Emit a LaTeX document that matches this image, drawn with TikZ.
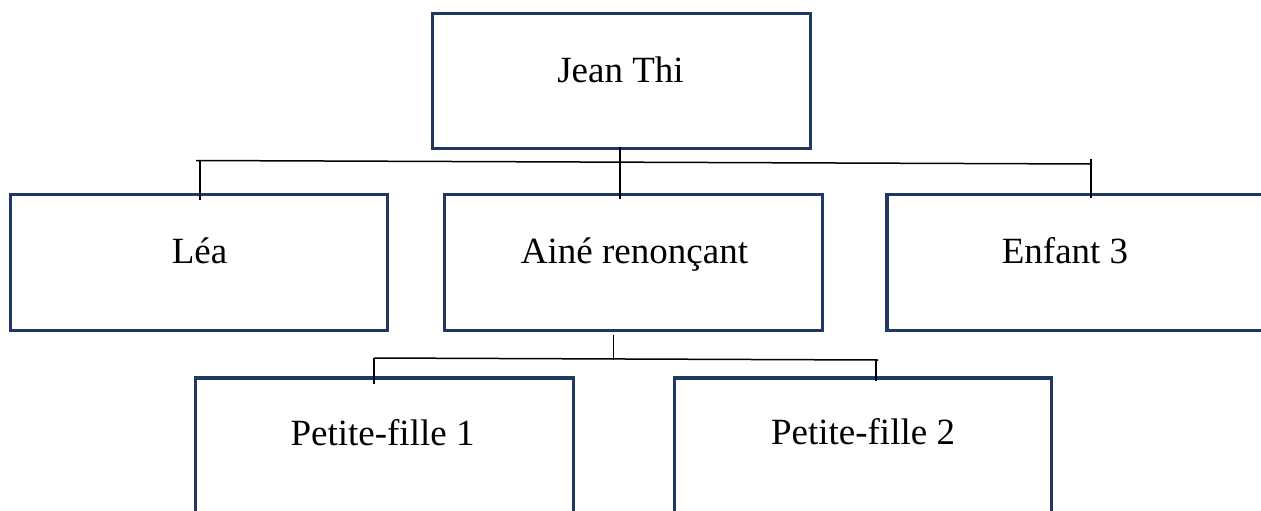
\documentclass[tikz,border=0pt]{standalone}
\usepackage{fontspec}
\setmainfont{Liberation Serif}
\definecolor{navy}{HTML}{1F3864}
\tikzset{
  box/.style={draw=navy, line width=3.2pt, rectangle, inner sep=0pt},
  lbl/.style={font=\fontsize{37}{40}\selectfont, text=black, inner sep=0pt, anchor=base},
  conn/.style={draw=black, line width=1.5pt}
}
\begin{document}
\begin{tikzpicture}[x=1pt,y=-1pt]
\useasboundingbox (0,0) rectangle (1261,511);
\clip (0,0) rectangle (1261,511);
% boxes
\node[box, minimum width=378, minimum height=135] (jt) at (621.5,81) {};
\node[box, minimum width=377, minimum height=136] (lea) at (199,262.5) {};
\node[box, minimum width=378, minimum height=136] (ai) at (633.5,262.5) {};
\node[box, minimum width=382, minimum height=136] (e3) at (1078,262.5) {};
\node[box, minimum width=378, minimum height=141] (pf1) at (384.5,448.5) {};
\node[box, minimum width=377, minimum height=141] (pf2) at (863,448.5) {};
% labels
\node[lbl] (tjt) at (620.5,82) {Jean Thi};
\node[lbl] (tlea) at (199.5,263) {Léa};
\node[lbl] (tai) at (634.5,263) {Ainé renonçant};
\node[lbl] (te3) at (1065,263) {Enfant 3};
\node[lbl] (tpf1) at (382.5,445) {Petite-fille 1};
\node[lbl] (tpf2) at (863,444) {Petite-fille 2};
% first level connector
\coordinate (b1l) at (196,160.5);
\coordinate (b1r) at (1092,164);
\coordinate (v1t) at (620,147);
\coordinate (v1b) at (620,199);
\coordinate (l1t) at (200,160.5);
\coordinate (l1b) at (200,200);
\coordinate (r1t) at (1091,159);
\coordinate (r1b) at (1091,198);
\draw[conn] (b1l) -- (b1r);
\draw[conn] (v1t) -- (v1b);
\draw[conn] (l1t) -- (l1b);
\draw[conn] (r1t) -- (r1b);
% second level connector
\coordinate (b2l) at (374,358);
\coordinate (b2r) at (878,360);
\coordinate (v2t) at (613.5,335);
\coordinate (v2b) at (613.5,360);
\coordinate (l2t) at (374,358);
\coordinate (l2b) at (374,384);
\coordinate (r2t) at (876,360);
\coordinate (r2b) at (876,381);
\draw[conn] (b2l) -- (b2r);
\draw[conn] (v2t) -- (v2b);
\draw[conn] (l2t) -- (l2b);
\draw[conn] (r2t) -- (r2b);
\end{tikzpicture}
\end{document}
